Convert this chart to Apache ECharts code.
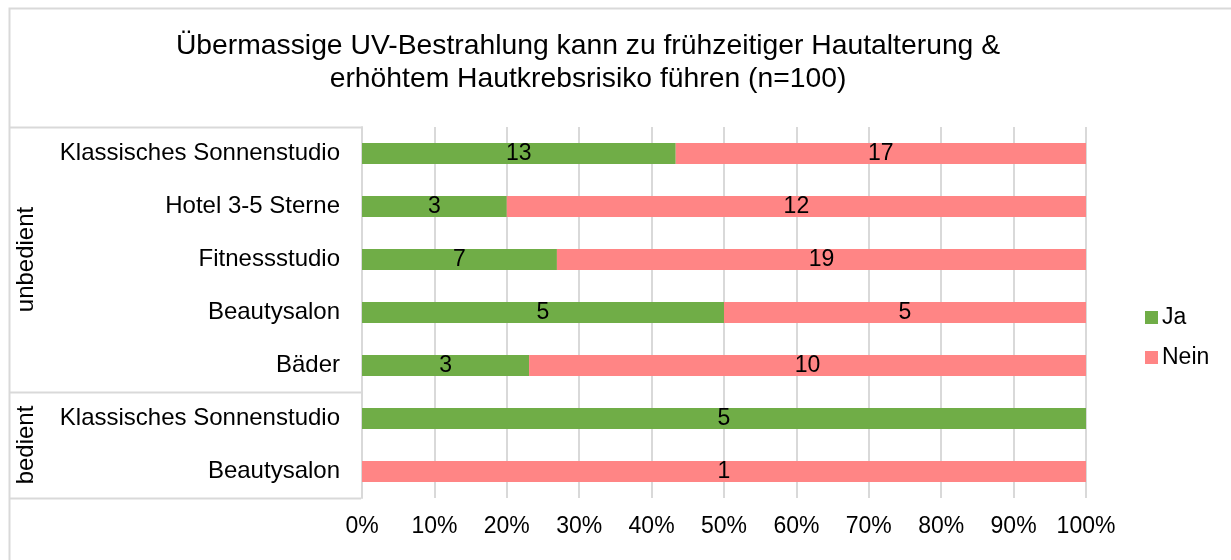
<!DOCTYPE html>
<html>
<head>
<meta charset="utf-8">
<script src="https://cdn.jsdelivr.net/npm/echarts@6/dist/echarts.min.js"></script>
<style>
  html, body { margin: 0; padding: 0; background: #fff; }
  #chart { width: 1231px; height: 560px; }
</style>
</head>
<body>
<div id="chart"></div>
<script>
(function () {
    var titleText = 'Übermassige UV-Bestrahlung kann zu frühzeitiger Hautalterung &\nerhöhtem Hautkrebsrisiko führen (n=100)';

    var categories = [
        'Klassisches Sonnenstudio',
        'Hotel 3-5 Sterne',
        'Fitnessstudio',
        'Beautysalon',
        'Bäder',
        'Klassisches Sonnenstudio',
        'Beautysalon'
    ];
    // outer level of the category axis: name and how many categories it spans
    var groups = [
        ['unbedient', 5],
        ['bedient', 2]
    ];
    var ja = [13, 3, 7, 5, 3, 5, 0];
    var nein = [17, 12, 19, 5, 10, 0, 1];
    var ticks = [0, 10, 20, 30, 40, 50, 60, 70, 80, 90, 100];

    var font = 'Liberation Sans, Arial, sans-serif';
    var lineColor = '#d9d9d9';

    function share(arr) {
        return arr.map(function (v, i) {
            var total = ja[i] + nein[i];
            return total ? v / total * 100 : 0;
        });
    }

    function countLabel(arr) {
        return function (p) {
            return arr[p.dataIndex] ? String(arr[p.dataIndex]) : '';
        };
    }

    var gridLeft = 362, gridTop = 127, gridBottom = 62, gridRight = 145;

    var option = {
        backgroundColor: '#fff',
        animation: false,
        textStyle: { fontFamily: font },
        legend: {
            orient: 'vertical',
            left: 1140,
            top: 301,
            itemWidth: 13,
            itemHeight: 13,
            itemGap: 17,
            icon: 'rect',
            textStyle: { fontSize: 23, color: '#000', fontFamily: font, padding: [0, 0, 0, -1] },
            data: ['Ja', 'Nein']
        },
        grid: {
            left: gridLeft,
            right: gridRight,
            top: gridTop,
            bottom: gridBottom
        },
        xAxis: {
            type: 'value',
            min: ticks[0],
            max: ticks[ticks.length - 1],
            interval: 10,
            axisLine: { show: false },
            axisTick: { show: false },
            splitLine: { lineStyle: { color: lineColor, width: 2 } },
            axisLabel: {
                formatter: '{value}%',
                fontSize: 23,
                color: '#000',
                fontFamily: font,
                margin: 17
            }
        },
        yAxis: {
            type: 'category',
            inverse: true,
            data: categories,
            axisLine: { show: true, lineStyle: { color: lineColor, width: 2 } },
            axisTick: { show: false },
            splitLine: { show: false },
            axisLabel: {
                fontSize: 24,
                color: '#000',
                fontFamily: font,
                margin: 22
            }
        },
        series: [{
            name: 'Ja',
            type: 'bar',
            stack: 'all',
            barWidth: 21,
            itemStyle: { color: '#70ad47' },
            label: {
                show: true,
                position: 'inside',
                fontSize: 23,
                color: '#000',
                fontFamily: font,
                formatter: countLabel(ja)
            },
            data: share(ja)
        }, {
            name: 'Nein',
            type: 'bar',
            stack: 'all',
            barWidth: 21,
            itemStyle: { color: '#ff8585' },
            label: {
                show: true,
                position: 'inside',
                fontSize: 23,
                color: '#000',
                fontFamily: font,
                formatter: countLabel(nein)
            },
            data: share(nein)
        }]
    };

    var chart = echarts.init(document.getElementById('chart'));
    chart.setOption(option);

    // outer frame, title and the two-level category table drawn around the grid
    var band = (560 - gridTop - gridBottom) / categories.length;
    var axisX = gridLeft - 1;
    var g = [{
        type: 'rect',
        shape: { x: 9.5, y: 8.5, width: 1300, height: 600 },
        style: { fill: null, stroke: lineColor, lineWidth: 2 },
        silent: true
    }, {
        type: 'text',
        x: 588,
        y: 30,
        style: {
            text: titleText,
            fontSize: 28.3,
            fontFamily: font,
            fill: '#000',
            align: 'center',
            lineHeight: 33
        }
    }];
    var y = gridTop;
    g.push({
        type: 'line',
        shape: { x1: 9, y1: y + 0.5, x2: axisX, y2: y + 0.5 },
        style: { stroke: lineColor, lineWidth: 2 }
    });
    groups.forEach(function (gr) {
        var h = gr[1] * band;
        g.push({
            type: 'text',
            x: 26,
            y: y + h / 2,
            rotation: Math.PI / 2,
            style: {
                text: gr[0],
                fontSize: 24,
                fontFamily: font,
                fill: '#000',
                align: 'center',
                verticalAlign: 'middle'
            }
        });
        y += h;
        g.push({
            type: 'line',
            shape: { x1: 9, y1: y + 0.5, x2: axisX, y2: y + 0.5 },
            style: { stroke: lineColor, lineWidth: 2 }
        });
    });
    chart.setOption({ graphic: g });
})();
</script>
</body>
</html>
